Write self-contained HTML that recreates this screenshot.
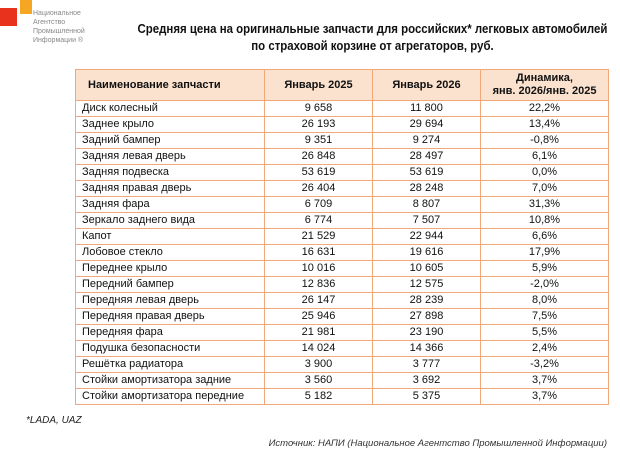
<!DOCTYPE html>
<html><head><meta charset="utf-8">
<style>
body{margin:0;width:620px;height:458px;background:#fff;position:relative;overflow:hidden;font-family:"Liberation Sans","DejaVu Sans",sans-serif;}
.abs{position:absolute;}
#title{left:100px;top:20px;width:545px;text-align:center;font-weight:bold;font-size:13px;line-height:17px;color:#111;white-space:nowrap;transform:scaleX(0.88);transform-origin:50% 0;}
#tbl{position:absolute;left:75px;top:69px;width:533px;table-layout:fixed;border-collapse:collapse;font-size:11px;color:#111;}
#tbl td,#tbl th{border:1px solid #f0a878;padding:0;overflow:hidden;white-space:nowrap;}
#tbl th{background:#fbe2cf;height:30px;font-size:11px;font-weight:bold;line-height:13px;}
#tbl td{height:15px;line-height:15px;text-align:center;}
#tbl td.n{text-align:left;padding-left:6px;}
.lg{font-size:7px;color:#888;line-height:9px;}
</style></head><body>
<div class="abs" style="left:0;top:8px;width:17px;height:18px;background:#e8321e"></div>
<div class="abs" style="left:20px;top:0;width:12px;height:14px;background:#f5a623"></div>
<div class="abs lg" style="left:33px;top:9px">Национальное<br>Агентство<br>Промышленной<br>Информации ®</div>
<div id="title" class="abs">Средняя цена на оригинальные запчасти для российских* легковых автомобилей<br>по страховой корзине от агрегаторов, руб.</div>
<table id="tbl">
<colgroup><col style="width:189px"><col style="width:108px"><col style="width:108px"><col style="width:128px"></colgroup>
<thead><tr>
<th style="text-align:left;padding-left:12px">Наименование запчасти</th>
<th>Январь 2025</th>
<th>Январь 2026</th>
<th>Динамика,<br>янв. 2026/янв. 2025</th>
</tr></thead>
<tbody id="tb"></tbody>
</table>
<div class="abs" style="left:26px;top:415px;font-size:10px;font-style:italic;color:#222">*LADA, UAZ</div>
<div class="abs" style="right:13px;top:438px;font-size:9.5px;font-style:italic;color:#333">Источник: НАПИ (Национальное Агентство Промышленной Информации)</div>
<script>
const parts=["Диск колесный","Заднее крыло","Задний бампер","Задняя левая дверь","Задняя подвеска","Задняя правая дверь","Задняя фара","Зеркало заднего вида","Капот","Лобовое стекло","Переднее крыло","Передний бампер","Передняя левая дверь","Передняя правая дверь","Передняя фара","Подушка безопасности","Решётка радиатора","Стойки амортизатора задние","Стойки амортизатора передние"];
const jan2025=[9658,26193,9351,26848,53619,26404,6709,6774,21529,16631,10016,12836,26147,25946,21981,14024,3900,3560,5182];
const jan2026=[11800,29694,9274,28497,53619,28248,8807,7507,22944,19616,10605,12575,28239,27898,23190,14366,3777,3692,5375];
const dyn=["22,2%","13,4%","-0,8%","6,1%","0,0%","7,0%","31,3%","10,8%","6,6%","17,9%","5,9%","-2,0%","8,0%","7,5%","5,5%","2,4%","-3,2%","3,7%","3,7%"];
function fmt(v){return String(v).replace(/\B(?=(\d{3})+(?!\d))/g,' ');}
const tb=document.getElementById('tb');
parts.forEach((p,i)=>{
  const tr=document.createElement('tr');
  
  
  [[p,'n','part-name-cell'],[fmt(jan2025[i]),'','jan-2025-cell'],[fmt(jan2026[i]),'','jan-2026-cell'],[dyn[i],'','dynamics-cell']].forEach(c=>{
    const td=document.createElement('td');
    td.textContent=c[0];
    if(c[1])td.className=c[1];
    
    
    tr.appendChild(td);
  });
  tb.appendChild(tr);
});
</script>
</body></html>
